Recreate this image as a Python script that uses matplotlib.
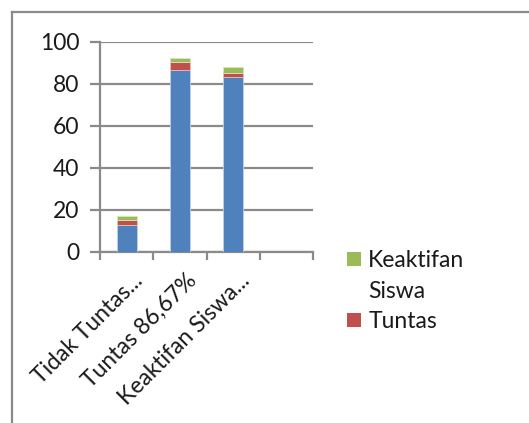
import matplotlib
matplotlib.use("Agg")
import matplotlib.pyplot as plt
from matplotlib.patches import Patch
from matplotlib.lines import Line2D
import matplotlib.transforms as mtransforms
import numpy as np

plt.rcParams['font.family'] = ['Lato', 'DejaVu Sans']

categories = ["Tidak Tuntas...", "Tuntas 86,67%", "Keaktifan Siswa...", ""]
series_blue = [13, 86.67, 83]
series_red = [2, 3.5, 2]
series_green = [2, 2, 3]
legend_labels = ["Keaktifan", "Siswa", "Tuntas"]
y_ticks = [0, 20, 40, 60, 80, 100]

BLUE = "#4F81BD"
RED = "#C0504D"
GREEN = "#9BBB59"
GRID = "#8A8A8A"
FS = 16.5

W, H = 529, 423
fig = plt.figure(figsize=(W / 100, H / 100), dpi=100)
ax = fig.add_axes([100 / W, 1 - 252 / H, (313 - 100) / W, (252 - 41.7) / H])

x = np.arange(len(series_blue))
bw = 0.375
b = np.array(series_blue)
r = np.array(series_red)
g = np.array(series_green)
ax.bar(x, b, bw, color=BLUE, edgecolor="#BFD0E6", linewidth=0.6, zorder=3)
ax.bar(x, r, bw, bottom=b, color=RED, edgecolor="#E6BFBF", linewidth=0.6, zorder=3)
ax.bar(x, g, bw, bottom=b + r, color=GREEN, edgecolor="#D9E6BF", linewidth=0.6, zorder=3)

ax.set_xlim(-0.5, len(categories) - 0.5)
ax.set_ylim(0, 100)
ax.set_yticks(y_ticks)
ax.yaxis.grid(True, color=GRID, linewidth=1.6, zorder=0)
ax.set_axisbelow(True)
for s in ["top", "right"]:
    ax.spines[s].set_visible(False)
for s in ["left", "bottom"]:
    ax.spines[s].set_color(GRID)
    ax.spines[s].set_linewidth(1.6)

ax.set_xticks(np.arange(len(categories) + 1) - 0.5, minor=False)
ax.set_xticklabels([])
ax.set_xticks(np.arange(len(categories)), minor=True)
ax.set_xticklabels(categories, minor=True, rotation=45, ha="right", va="center",
                   rotation_mode="anchor", fontsize=FS, color="#1a1a1a")
ax.tick_params(axis="x", which="major", length=6, width=1.6, color=GRID, direction="out")
ax.tick_params(axis="x", which="minor", length=0, pad=18)
ax.tick_params(axis="y", length=7, width=1.6, color=GRID, labelsize=FS, pad=8,
               labelcolor="#1a1a1a")
for lbl in ax.get_xticklabels(minor=True):
    lbl.set_transform(lbl.get_transform() + mtransforms.ScaledTranslation(13 / 100, 0, fig.dpi_scale_trans))

handles = [Patch(facecolor=GREEN), Patch(facecolor="none", edgecolor="none"), Patch(facecolor=RED)]
leg = fig.legend(handles, legend_labels, loc="upper left", bbox_to_anchor=(338 / W, 1 - 241 / H),
                 frameon=False, fontsize=FS, handlelength=0.62, handleheight=0.55,
                 handletextpad=0.3, labelspacing=0.42, borderaxespad=0, labelcolor="#1a1a1a")

fig.add_artist(Line2D([12 / W, 12 / W], [0, 1 - 12 / H], transform=fig.transFigure, color=GRID, linewidth=1.6))
fig.add_artist(Line2D([12 / W, 1], [1 - 12 / H, 1 - 12 / H], transform=fig.transFigure, color=GRID, linewidth=1.6))

fig.savefig("out.png", dpi=100)
